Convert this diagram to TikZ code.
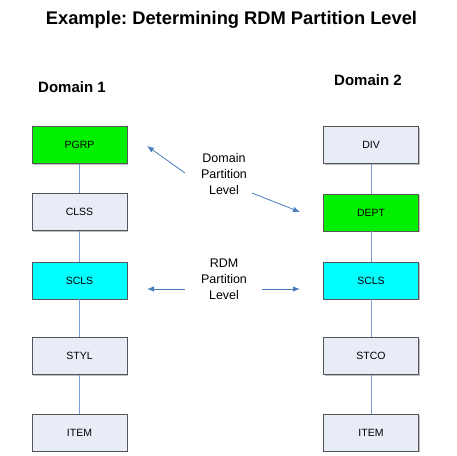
\documentclass[tikz,border=0pt]{standalone}
\usepackage{fontspec}
\setmainfont{Liberation Sans}
\usetikzlibrary{arrows.meta,shadows}
\frenchspacing
\definecolor{boxfill}{HTML}{E8ECF7}
\definecolor{boxgreen}{HTML}{00F000}
\definecolor{boxcyan}{HTML}{00FFFF}
\definecolor{linkblue}{HTML}{7B9ED8}
\definecolor{arrowblue}{HTML}{4A7EBB}
\definecolor{boxborder}{HTML}{555555}
\tikzset{
  x=1pt, y=-1pt,
  box/.style={draw=boxborder, line width=0.9pt, fill=boxfill, minimum width=95pt, minimum height=37pt,
    inner sep=0pt, font=\fontsize{10.5}{12}\selectfont,
    drop shadow={shadow xshift=1pt, shadow yshift=-1pt, opacity=0.5, fill=gray}},
  link/.style={draw=linkblue, line width=0.9pt},
  pointer/.style={draw=arrowblue, line width=0.8pt, -{Latex[length=7pt,width=5.5pt]}},
  midtext/.style={align=center, font=\fontsize{12.5}{16}\selectfont, inner sep=0pt},
  heading/.style={font=\bfseries\fontsize{15}{18}\selectfont, inner sep=0pt}
}
\begin{document}
\begin{tikzpicture}
\useasboundingbox (0,0) rectangle (457,455);
\fill[white] (0,0) rectangle (457,455);
\node[font=\bfseries\fontsize{18.3}{22}\selectfont, inner sep=0pt] (title) at (231.5,20) {Example: Determining RDM Partition Level};
\node[heading] (d1) at (72,87) {Domain 1};
\node[heading] (d2) at (368,80) {Domain 2};

\node[box, fill=boxgreen] (pgrp) at (79.5,145) {PGRP};
\node[box] (clss) at (79.5,212) {CLSS};
\node[box, fill=boxcyan] (scls1) at (79.5,280.5) {SCLS};
\node[box] (styl) at (79.5,356) {STYL};
\node[box] (item1) at (79.5,432.5) {ITEM};

\node[box] (div) at (371,145) {DIV};
\node[box, fill=boxgreen] (dept) at (371,212.5) {DEPT};
\node[box, fill=boxcyan] (scls2) at (371,280.5) {SCLS};
\node[box] (stco) at (371,356) {STCO};
\node[box] (item2) at (371,432.5) {ITEM};

\draw[link] (pgrp) -- (clss);
\draw[link] (clss) -- (scls1);
\draw[link] (scls1) -- (styl);
\draw[link] (styl) -- (item1);
\draw[link] (div) -- (dept);
\draw[link] (dept) -- (scls2);
\draw[link] (scls2) -- (stco);
\draw[link] (stco) -- (item2);

\node[midtext] (dpl) at (224,174) {Domain\\Partition\\Level};
\node[midtext] (rpl) at (224,279) {RDM\\Partition\\Level};

\coordinate (a1s) at (185,173);
\coordinate (a1e) at (147,146);
\coordinate (a2s) at (252,193);
\coordinate (a2e) at (300,212);
\coordinate (r1s) at (185,289);
\coordinate (r1e) at (147,289);
\coordinate (r2s) at (262,289);
\coordinate (r2e) at (300,289);
\draw[pointer] (a1s) -- (a1e);
\draw[pointer] (a2s) -- (a2e);
\draw[pointer] (r1s) -- (r1e);
\draw[pointer] (r2s) -- (r2e);
\end{tikzpicture}
\end{document}
